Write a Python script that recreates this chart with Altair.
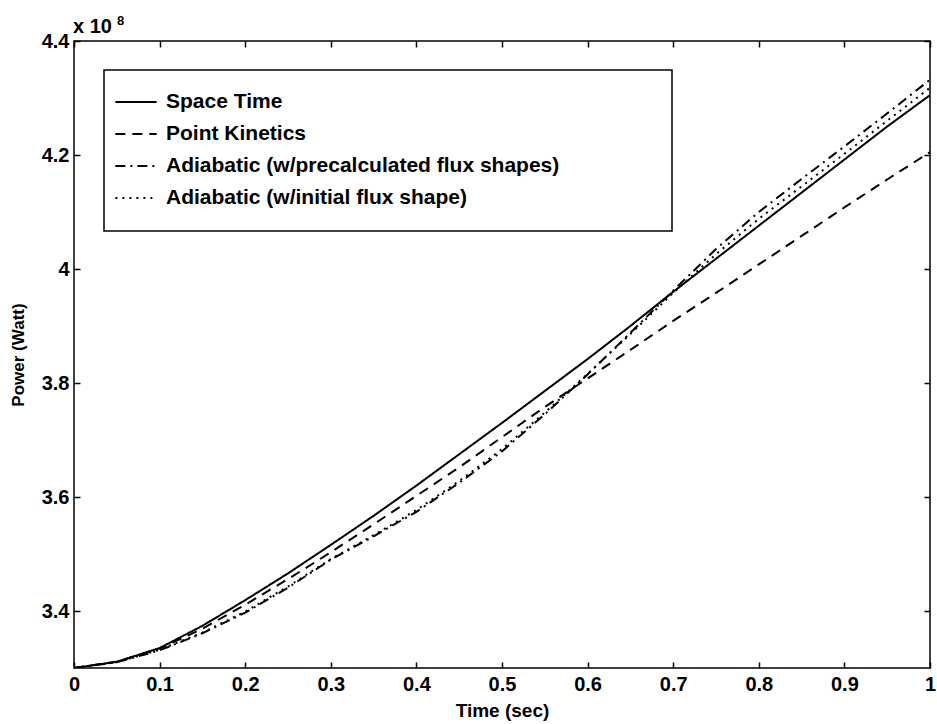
import altair as alt
import pandas as pd

# ---- data (power in units of 1e8 W) ----
time_s = [0.0, 0.05, 0.1, 0.15, 0.2, 0.25, 0.3, 0.35, 0.4, 0.45, 0.5,
          0.55, 0.6, 0.65, 0.7, 0.75, 0.8, 0.85, 0.9, 0.95, 1.0]
space_time = [3.300, 3.311, 3.335, 3.374, 3.419, 3.466, 3.516, 3.567, 3.620, 3.675, 3.730,
              3.786, 3.842, 3.900, 3.960, 4.018, 4.076, 4.134, 4.192, 4.250, 4.305]
point_kinetics = [3.300, 3.311, 3.334, 3.369, 3.411, 3.456, 3.503, 3.552, 3.602, 3.652, 3.705,
                  3.758, 3.808, 3.858, 3.909, 3.958, 4.008, 4.058, 4.108, 4.157, 4.205]
adiabatic_precalc = [3.300, 3.310, 3.331, 3.361, 3.397, 3.441, 3.490, 3.531, 3.574, 3.625, 3.680,
                     3.745, 3.815, 3.888, 3.962, 4.035, 4.100, 4.158, 4.215, 4.273, 4.332]
adiabatic_initial = [3.300, 3.310, 3.332, 3.362, 3.399, 3.443, 3.491, 3.533, 3.577, 3.628, 3.684,
                     3.748, 3.816, 3.886, 3.958, 4.026, 4.088, 4.145, 4.202, 4.260, 4.318]

series_names = ["Space Time", "Point Kinetics",
                "Adiabatic (w/precalculated flux shapes)",
                "Adiabatic (w/initial flux shape)"]
series_values = [space_time, point_kinetics, adiabatic_precalc, adiabatic_initial]
dash_styles = [[1, 0], [10, 7], [10, 5, 2, 5], [2, 5]]

x_ticks = [0, 0.1, 0.2, 0.3, 0.4, 0.5, 0.6, 0.7, 0.8, 0.9, 1]
y_ticks = [3.4, 3.6, 3.8, 4.0, 4.2, 4.4]
multiplier_text = ["x 10"]
exponent_text = ["8"]

rows = []
for name, vals in zip(series_names, series_values):
    for t, v in zip(time_s, vals):
        rows.append({"time": t, "power": v, "series": name})
df = pd.DataFrame(rows)

FONT = "Liberation Sans"
W, H = 856, 627

x_scale = alt.Scale(domain=[0, 1], nice=False, zero=False)
y_scale = alt.Scale(domain=[3.3, 4.4], nice=False, zero=False)

# invisible spacer title that widens/heightens the legend box like MATLAB's
spacer_title = ["MMMMM", "MMMMM", "MMMMM", "MMMMM", "MMMMM"]

lines = alt.Chart(df).mark_line(color="black", strokeWidth=2, clip=True).encode(
    x=alt.X("time:Q", scale=x_scale,
            axis=alt.Axis(orient="bottom", values=x_ticks, format="~g", title="Time (sec)",
                          offset=-6, tickSize=6, domain=False, grid=False,
                          labelPadding=6, labelFlush=False, labelOverlap=False,
                          titlePadding=7)),
    y=alt.Y("power:Q", scale=y_scale,
            axis=alt.Axis(orient="left", values=y_ticks, format="~g", title="Power (Watt)",
                          offset=-6, tickSize=6, domain=False, grid=False,
                          labelPadding=5, labelFlush=False, labelOverlap=False,
                          titlePadding=14, titleFontSize=17)),
    strokeDash=alt.StrokeDash(
        "series:N", sort=series_names,
        scale=alt.Scale(domain=series_names, range=dash_styles),
        legend=alt.Legend(orient="none", legendX=30, legendY=29,
                          title=spacer_title, titleOrient="right", titlePadding=0,
                          titleFontSize=24.5, titleLineHeight=26.5, titleOpacity=0,
                          titleFont=FONT, titleBaseline="top",
                          strokeColor="black", fillColor="white", padding=10,
                          labelFont=FONT, labelFontSize=21, labelFontWeight="bold",
                          labelColor="black", labelLimit=0, symbolType="stroke",
                          symbolStrokeColor="black", symbolStrokeWidth=2,
                          symbolSize=1700, labelOffset=8, rowPadding=0)),
)

mirror = alt.Chart(df).mark_point(opacity=0).encode(
    x=alt.X("time:Q", scale=x_scale,
            axis=alt.Axis(orient="top", values=x_ticks, labels=False, title=None,
                          offset=-6, tickSize=6, domain=False, grid=False)),
    y=alt.Y("power:Q", scale=y_scale,
            axis=alt.Axis(orient="right", values=y_ticks, labels=False, title=None,
                          offset=-6, tickSize=6, domain=False, grid=False)),
)

mult = alt.Chart(pd.DataFrame({"t": multiplier_text})).mark_text(
    align="left", baseline="alphabetic", font=FONT, fontSize=20, fontWeight="bold", color="black"
).encode(x=alt.value(-1), y=alt.value(-8), text="t:N")

expo = alt.Chart(pd.DataFrame({"t": exponent_text})).mark_text(
    align="left", baseline="alphabetic", font=FONT, fontSize=13, fontWeight="bold", color="black"
).encode(x=alt.value(43), y=alt.value(-16), text="t:N")

chart = alt.layer(lines, mirror, mult, expo).properties(
    width=W, height=H,
    autosize=alt.AutoSizeParams(type="none"),
    padding={"left": 74, "top": 41, "right": 7, "bottom": 56},
    background="white",
).configure_view(
    stroke="black", strokeWidth=1.5
).configure_axis(
    labelFont=FONT, labelFontSize=20, labelFontWeight="bold", labelColor="black",
    titleFont=FONT, titleFontSize=19, titleFontWeight="bold", titleColor="black",
    tickColor="black", tickWidth=1.5,
).configure_legend(
    strokeWidth=1.5
)

chart.save("out.html", embed_options={"renderer": "svg", "actions": False})
